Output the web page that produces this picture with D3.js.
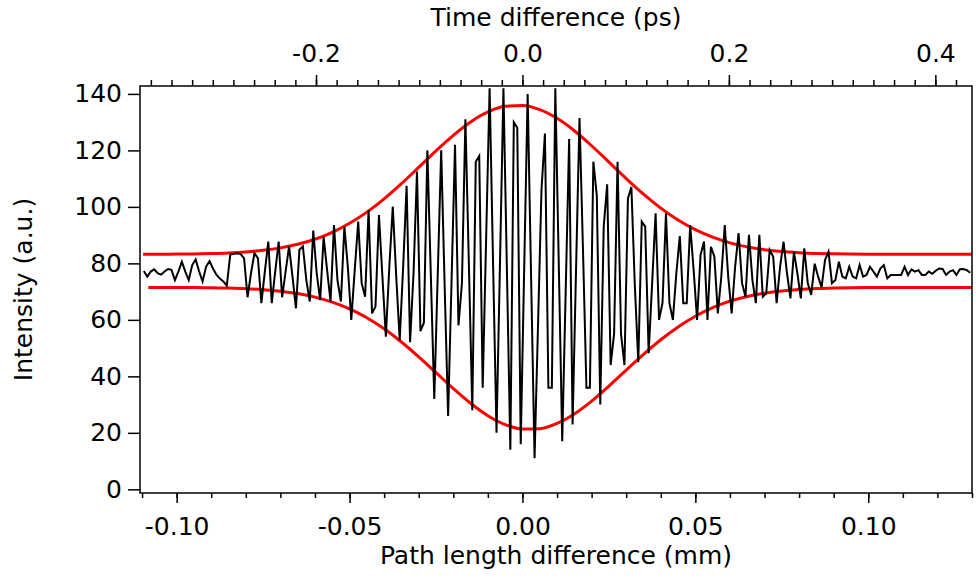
<!DOCTYPE html>
<html>
<head>
<meta charset="utf-8">
<script src="https://cdn.jsdelivr.net/npm/d3@7"></script>
<style>
  body { margin: 0; background: #ffffff; }
  svg { display: block; }
  text { font-family: "DejaVu Sans", Verdana, sans-serif; fill: #000; }
</style>
</head>
<body>
<svg id="interferogram" width="976" height="586"></svg>
<script>
// Measured scan: one sample every 1 um of path difference
const scanStart = -0.1095;   // mm
const scanStep = 0.001;      // mm
const intensity = [
  77.3, 75.3, 77.1, 77.9, 76.5, 76.0, 77.1, 78.0, 77.7, 74.1,
  77.1, 80.6, 77.1, 74.1, 79.4, 81.4, 77.1, 73.6, 78.8, 80.8,
  78.2, 76.0, 74.6, 73.6, 72.1, 83.1, 83.4, 83.6, 83.3, 81.8,
  68.0, 76.5, 83.6, 81.8, 65.9, 77.1, 87.7, 65.9, 77.1, 87.7,
  68.0, 77.1, 86.0, 75.3, 64.1, 84.8, 86.0, 74.1, 66.5, 91.6,
  76.5, 67.0, 89.4, 77.7, 66.5, 93.6, 74.1, 66.5, 93.0, 78.8,
  60.0, 77.7, 94.8, 73.0, 68.2, 98.9, 62.3, 64.7, 97.1, 75.3,
  54.0, 78.8, 100.1, 75.3, 52.8, 78.8, 107.5, 52.1, 76.5, 112.5,
  56, 59, 120, 76, 32, 76, 120, 72, 26, 74,
  122, 58, 73, 131, 80, 28, 116, 118, 36, 89,
  142, 80, 20, 80, 142, 78, 14, 130, 128, 16,
  78, 140, 75, 11, 58, 106, 126, 36, 36, 142,
  80, 17, 70, 124, 23, 78, 131.5, 85, 36, 36,
  116, 104, 30, 93, 108, 44, 55, 116, 55, 44,
  103, 107, 72, 45, 94.8, 93.0, 48.2, 73, 97.7, 60,
  66, 97.7, 65.9, 60.0, 76.5, 89.7, 65.9, 65.9, 93.6, 77.7,
  60.0, 83.0, 87.7, 60.0, 85.9, 82.4, 62.3, 75.3, 93.6, 75.3,
  62.3, 78.8, 90.7, 73.0, 68.2, 90.1, 74.1, 65.9, 90.1, 68.2,
  69.4, 84.7, 82.4, 65.9, 78.8, 87.7, 76.5, 67.6, 84.1, 76.5,
  67.6, 85.3, 73.0, 68.8, 79.9, 75.3, 71.5, 81.2, 84.1, 73.0,
  74.1, 80.6, 75.3, 74.7, 78.8, 75.3, 74.7, 79.4, 75.3, 75.9,
  78.8, 77.1, 75.3, 78.2, 79.4, 74.7, 75.9, 75.9, 75.9, 75.9,
  78.8, 75.9, 77.9, 77.1, 77.6, 75.9, 75.9, 77.1, 76.3, 77.4,
  78.2, 78.0, 75.9, 77.1, 77.6, 75.9, 77.9, 78.0, 77.6, 76.7
];

// Envelope curves (red)
const upperPath = [-0.1097, -0.105, -0.100, -0.095, -0.090, -0.085, -0.080, -0.075, -0.070, -0.065,
  -0.060, -0.055, -0.050, -0.045, -0.040, -0.035, -0.030, -0.025, -0.020, -0.015,
  -0.010, -0.005, 0.000, 0.005, 0.010, 0.015, 0.020, 0.025, 0.030, 0.035,
  0.040, 0.045, 0.050, 0.055, 0.060, 0.065, 0.070, 0.075, 0.080, 0.085,
  0.090, 0.095, 0.100, 0.105, 0.110, 0.115, 0.120, 0.125, 0.130];
const upperEnvelope = [83.22, 83.24, 83.28, 83.35, 83.48, 83.69, 84.05, 84.62, 85.48, 86.75,
  88.55, 91.00, 94.18, 98.14, 102.86, 108.22, 113.99, 119.83, 125.34, 130.07,
  133.61, 135.61, 135.9, 134.43, 131.35, 126.96, 121.65, 115.87, 110.04, 104.52,
  99.57, 95.35, 91.93, 89.26, 87.27, 85.84, 84.86, 84.20, 83.79, 83.53,
  83.38, 83.30, 83.25, 83.22, 83.21, 83.2, 83.2, 83.2, 83.2];
const lowerPath = [-0.1082, -0.105, -0.100, -0.095, -0.090, -0.085, -0.080, -0.075, -0.070, -0.065,
  -0.060, -0.055, -0.050, -0.045, -0.040, -0.035, -0.030, -0.025, -0.020, -0.015,
  -0.010, -0.005, 0.000, 0.005, 0.010, 0.015, 0.020, 0.025, 0.030, 0.035,
  0.040, 0.045, 0.050, 0.055, 0.060, 0.065, 0.070, 0.075, 0.080, 0.085,
  0.090, 0.095, 0.100, 0.105, 0.110, 0.115, 0.120, 0.125, 0.130];
const lowerEnvelope = [71.49, 71.48, 71.46, 71.43, 71.36, 71.24, 71.04, 70.69, 70.14, 69.30,
  68.06, 66.28, 63.88, 60.74, 56.83, 52.17, 46.92, 41.31, 35.68, 30.46,
  26.07, 22.93, 21.36, 21.49, 23.34, 26.69, 31.24, 36.57, 42.22, 47.80,
  52.97, 57.51, 61.29, 64.31, 66.61, 68.29, 69.46, 70.25, 70.76, 71.08,
  71.27, 71.38, 71.44, 71.47, 71.48, 71.5, 71.5, 71.5, 71.5];

// Tick values
const yTicks = [0, 20, 40, 60, 80, 100, 120, 140];
const pathMajorTicks = [-0.10, -0.05, 0.00, 0.05, 0.10];
const pathMinorTicks = [-0.11, -0.10, -0.09, -0.08, -0.07, -0.06, -0.05, -0.04, -0.03, -0.02, -0.01, 0.00,
  0.01, 0.02, 0.03, 0.04, 0.05, 0.06, 0.07, 0.08, 0.09, 0.10, 0.11, 0.12, 0.13];
const timeMajorTicks = [-0.2, 0.0, 0.2, 0.4];
const timeMinorTicks = [-0.36, -0.34, -0.32, -0.30, -0.28, -0.26, -0.24, -0.22, -0.20, -0.18, -0.16, -0.14,
  -0.12, -0.10, -0.08, -0.06, -0.04, -0.02, 0.00, 0.02, 0.04, 0.06, 0.08, 0.10, 0.12, 0.14, 0.16, 0.18,
  0.20, 0.22, 0.24, 0.26, 0.28, 0.30, 0.32, 0.34, 0.36, 0.38, 0.40, 0.42];

const mmPerPs = 0.2985; // conversion used by the top axis

// Plot box
const margin = { top: 86, right: 4, bottom: 93, left: 140 };
const width = 976 - margin.left - margin.right;
const height = 586 - margin.top - margin.bottom;

const svg = d3.select("#interferogram");
const g = svg.append("g")
  .attr("transform", "translate(" + margin.left + "," + margin.top + ")");

// Scales
const x = d3.scaleLinear().domain([-0.1106, 0.1300]).range([0, width]);
const xTop = d3.scaleLinear().domain(x.domain().map(d => d / mmPerPs)).range([0, width]);
const y = d3.scaleLinear().domain([-1.3, 142.8]).range([height, 0]);

const fontSize = "25px";

// Left axis
g.append("g")
  .call(d3.axisLeft(y).tickValues(yTicks).tickSize(12).tickPadding(6).tickFormat(d => d))
  .call(a => a.select(".domain").remove())
  .call(a => a.selectAll("line").attr("stroke-width", 1.5))
  .call(a => a.selectAll("text").style("font-size", fontSize).style("font-family", "DejaVu Sans"));

// Bottom axis: minor then major
g.append("g")
  .attr("transform", "translate(0," + height + ")")
  .call(d3.axisBottom(x).tickValues(pathMinorTicks).tickSize(5).tickFormat(""))
  .call(a => a.select(".domain").remove())
  .call(a => a.selectAll("line").attr("stroke-width", 1.5));
g.append("g")
  .attr("transform", "translate(0," + height + ")")
  .call(d3.axisBottom(x).tickValues(pathMajorTicks).tickSize(10).tickPadding(14).tickFormat(d => d.toFixed(2)))
  .call(a => a.select(".domain").remove())
  .call(a => a.selectAll("line").attr("stroke-width", 1.5))
  .call(a => a.selectAll("text").style("font-size", fontSize).style("font-family", "DejaVu Sans"));

// Top axis (time)
g.append("g")
  .call(d3.axisTop(xTop).tickValues(timeMinorTicks).tickSize(6).tickFormat(""))
  .call(a => a.select(".domain").remove())
  .call(a => a.selectAll("line").attr("stroke-width", 1.5));
g.append("g")
  .call(d3.axisTop(xTop).tickValues(timeMajorTicks).tickSize(11).tickPadding(13).tickFormat(d => d.toFixed(1)))
  .call(a => a.select(".domain").remove())
  .call(a => a.selectAll("line").attr("stroke-width", 1.5))
  .call(a => a.selectAll("text").style("font-size", fontSize).style("font-family", "DejaVu Sans"));

// Clip to the plot box
g.append("clipPath").attr("id", "plot-clip")
  .append("rect").attr("width", width).attr("height", height);

const plot = g.append("g").attr("clip-path", "url(#plot-clip)");

// Envelopes
const envLine = d3.line()
  .x(d => x(d[0]))
  .y(d => y(d[1]))
  .curve(d3.curveMonotoneX);

plot.append("path")
  .datum(d3.zip(upperPath, upperEnvelope))
  .attr("fill", "none")
  .attr("stroke", "#ff0000")
  .attr("stroke-width", 3)
  .attr("d", envLine);

plot.append("path")
  .datum(d3.zip(lowerPath, lowerEnvelope))
  .attr("fill", "none")
  .attr("stroke", "#ff0000")
  .attr("stroke-width", 3)
  .attr("d", envLine);

// Interferogram trace
const trace = d3.line()
  .x((d, i) => x(scanStart + i * scanStep))
  .y(d => y(d));

plot.append("path")
  .datum(intensity)
  .attr("fill", "none")
  .attr("stroke", "#000")
  .attr("stroke-width", 2)
  .attr("stroke-linejoin", "miter")
  .attr("d", trace);

// Frame
g.append("rect")
  .attr("width", width)
  .attr("height", height)
  .attr("fill", "none")
  .attr("stroke", "#000")
  .attr("stroke-width", 1.5);

// Axis titles
svg.append("text")
  .attr("x", margin.left + width / 2)
  .attr("y", 26)
  .attr("text-anchor", "middle")
  .style("font-size", fontSize)
  .text("Time difference (ps)");

svg.append("text")
  .attr("x", margin.left + width / 2)
  .attr("y", 564)
  .attr("text-anchor", "middle")
  .style("font-size", fontSize)
  .text("Path length difference (mm)");

svg.append("text")
  .attr("transform", "translate(32," + (margin.top + height / 2) + ") rotate(-90)")
  .attr("text-anchor", "middle")
  .style("font-size", fontSize)
  .text("Intensity (a.u.)");
</script>
</body>
</html>
